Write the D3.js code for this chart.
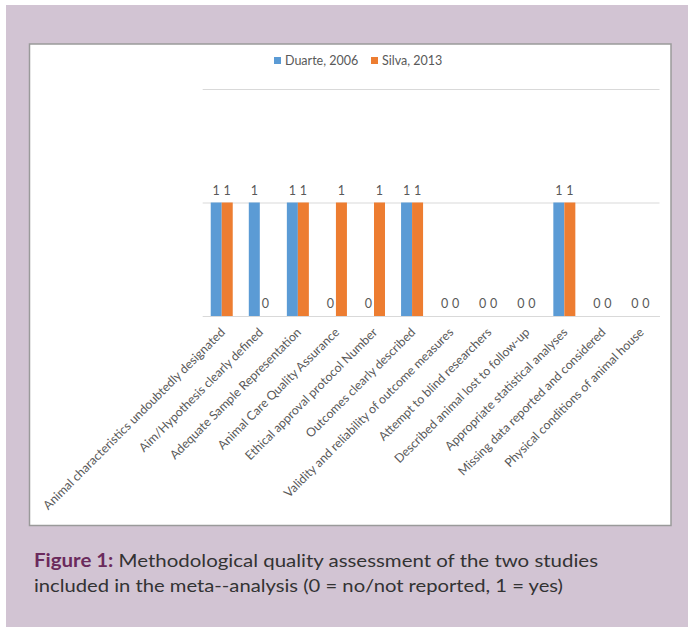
<!DOCTYPE html>
<html>
<head>
	<title>quality assessment chart</title>
	<script src="https://d3js.org/d3.v7.min.js"></script>
	<style>
		body { margin: 0; background: #fff; }
	</style>
</head>
<body>
	<script type="text/javascript">

		var categories = [
			"Animal characteristics undoubtedly designated",
			"Aim/Hypothesis clearly defined",
			"Adequate Sample Representation",
			"Animal Care Quality Assurance",
			"Ethical approval protocol Number",
			"Outcomes clearly described",
			"Validity and reliability of outcome measures",
			"Attempt to blind researchers",
			"Described animal lost to follow-up",
			"Appropriate statistical analyses",
			"Missing data reported and considered",
			"Physical conditions of animal house"
		];
		var seriesNames = ["Duarte, 2006", "Silva, 2013"];
		var duarte = [1, 1, 1, 0, 0, 1, 0, 0, 0, 1, 0, 0];
		var silva  = [1, 0, 1, 1, 1, 1, 0, 0, 0, 1, 0, 0];
		var yTicks = [0, 1, 2];

		var colors = ["#5b9bd5", "#ed7d31"];
		var width = 688;
		var height = 627;

		var plotLeft = 202.7, plotRight = 659.5;
		var plotTop = 89, plotBottom = 316;

		var x = d3.scaleBand()
			.domain(categories)
			.range([plotLeft, plotRight]);

		var xInner = d3.scaleBand()
			.domain(seriesNames)
			.range([0, x.bandwidth()])
			.paddingOuter(0.73);

		var y = d3.scaleLinear()
			.domain([0, 2])
			.range([plotBottom, plotTop]);

		var svg = d3.select("body").append("svg")
			.attr("width", width)
			.attr("height", height)
			.style("display", "block");

		// mauve figure background + white chart panel
		svg.append("rect")
			.attr("x", 6).attr("y", 5)
			.attr("width", width - 6).attr("height", height - 5)
			.attr("fill", "#d2c4d3");

		svg.append("rect")
			.attr("x", 29.5).attr("y", 44)
			.attr("width", 641.5).attr("height", 481.5)
			.attr("fill", "#fff")
			.attr("stroke", "#9a9a9a")
			.attr("stroke-width", 1.5);

		// gridlines (no tick labels on the value axis)
		var yAxis = d3.axisLeft(y)
			.tickValues(yTicks)
			.tickSize(-(plotRight - plotLeft))
			.tickFormat("");

		svg.append("g")
			.attr("transform", "translate(" + plotLeft + ",0)")
			.call(yAxis)
			.call(function (g) {
				g.select(".domain").remove();
				g.selectAll(".tick line").attr("stroke", "#d9d9d9");
			});

		// bars
		var rows = categories.map(function (c, i) {
			return { cat: c, values: [duarte[i], silva[i]] };
		});

		var groups = svg.selectAll("g.grp")
			.data(rows)
			.enter()
				.append("g")
				.attr("class", "grp")
				.attr("transform", function (d) { return "translate(" + x(d.cat) + ",0)"; });

		groups.selectAll("rect")
			.data(function (d) { return d.values.map(function (v, j) { return { name: seriesNames[j], v: v, j: j }; }); })
			.enter()
				.append("rect")
				.attr("x", function (d) { return xInner(d.name); })
				.attr("width", xInner.bandwidth())
				.attr("y", function (d) { return y(d.v); })
				.attr("height", function (d) { return y(0) - y(d.v); })
				.attr("fill", function (d) { return colors[d.j]; });

		groups.selectAll("text")
			.data(function (d) { return d.values.map(function (v, j) { return { name: seriesNames[j], v: v }; }); })
			.enter()
				.append("text")
				.attr("x", function (d) { return xInner(d.name) + xInner.bandwidth() / 2; })
				.attr("y", function (d) { return y(d.v) - 8; })
				.attr("text-anchor", "middle")
				.attr("font-family", "Lato, sans-serif")
				.attr("font-size", "12.5px")
				.attr("fill", "#595959")
				.text(function (d) { return d.v; });

		// category axis
		var xAxis = d3.axisBottom(x).tickSize(0).tickPadding(0);

		svg.append("g")
			.attr("transform", "translate(0," + plotBottom + ")")
			.call(xAxis)
			.call(function (g) {
				g.select(".domain").attr("stroke", "#d9d9d9");
				g.selectAll(".tick text")
					.attr("font-family", "Lato, sans-serif")
					.attr("font-size", "12.3px")
					.attr("fill", "#595959")
					.attr("text-anchor", "end")
					.attr("dy", "0.35em")
					.attr("y", 0)
					.attr("transform", "translate(1,14) rotate(-45)");
			});

		// legend
		var legend = svg.selectAll("g.leg")
			.data(seriesNames)
			.enter()
				.append("g")
				.attr("class", "leg")
				.attr("transform", function (d, i) { return "translate(" + (274 + i * 97) + ",57)"; });

		legend.append("rect")
			.attr("width", 7).attr("height", 7)
			.attr("fill", function (d, i) { return colors[i]; });

		legend.append("text")
			.attr("x", 11).attr("y", 8)
			.attr("font-family", "Lato, sans-serif")
			.attr("font-size", "12.5px")
			.attr("fill", "#595959")
			.text(function (d) { return d; });

		// caption
		var cap1 = svg.append("text")
			.attr("x", 34).attr("y", 567)
			.attr("font-family", "Lato, sans-serif")
			.attr("font-size", "18px")
			.attr("fill", "#333")
			.attr("textLength", 564)
			.attr("lengthAdjust", "spacingAndGlyphs");
		cap1.append("tspan")
			.attr("font-weight", "bold")
			.attr("fill", "#6b2a5c")
			.text("Figure 1:");
		cap1.append("tspan").text(" Methodological quality assessment of the two studies");

		svg.append("text")
			.attr("x", 34).attr("y", 592)
			.attr("font-family", "Lato, sans-serif")
			.attr("font-size", "18px")
			.attr("fill", "#333")
			.attr("textLength", 529)
			.attr("lengthAdjust", "spacingAndGlyphs")
			.text("included in the meta--analysis (0 = no/not reported, 1 = yes)");

	</script>
</body>
</html>
